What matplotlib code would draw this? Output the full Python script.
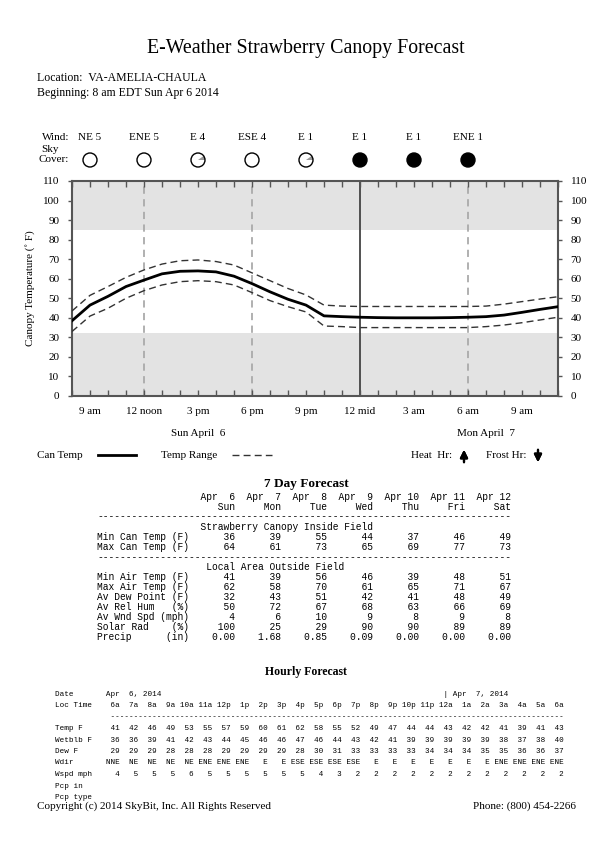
import matplotlib
matplotlib.use('Agg')
import matplotlib.pyplot as plt
from matplotlib import transforms
from matplotlib.lines import Line2D
from matplotlib.patches import Circle, Wedge

# ---- data ----
hours = list(range(8, 36))  # 8 am Sun .. 11 am Mon, hours from Sun midnight
can_temp = [38.5, 46.5, 51, 56, 59.3, 62.5, 63.8, 64, 63.5, 61.3, 57.5, 53.3, 49.5, 46.5,
            41, 40.6, 40.3, 40.1, 40, 40, 40, 40.1, 40.3, 40.6, 41.4, 42.8, 44.3, 45.7]
temp_hi = [43.5, 51.5, 56, 60.7, 64.5, 67.5, 69.2, 69.6, 68.8, 67, 63, 59, 55, 51.7,
           46.5, 46, 45.8, 45.8, 45.8, 45.8, 45.8, 45.8, 45.8, 46, 47, 48.3, 49.6, 50.8]
temp_lo = [33, 40.9, 44.9, 50, 53.9, 56.8, 58.5, 59, 58.5, 56.8, 52.9, 48.8, 45.7, 43,
           35.8, 35.5, 35, 35, 35, 35, 35, 35, 35, 35.5, 36.3, 37.5, 38.9, 40.3]

tick_hours = [9, 12, 15, 18, 21, 24, 27, 30, 33]
tick_labels = ['9 am', '12 noon', '3 pm', '6 pm', '9 pm', '12 mid', '3 am', '6 am', '9 am']
wind = ['NE 5', 'ENE 5', 'E 4', 'ESE 4', 'E 1', 'E 1', 'E 1', 'ENE 1']
sky_cover = [0, 0, 0.1, 0, 0.1, 1, 1, 1]

# 7 day table
dates = ['Apr  6', 'Apr  7', 'Apr  8', 'Apr  9', 'Apr 10', 'Apr 11', 'Apr 12']
days = ['Sun', 'Mon', 'Tue', 'Wed', 'Thu', 'Fri', 'Sat']
min_can = [36, 39, 55, 44, 37, 46, 49]
max_can = [64, 61, 73, 65, 69, 77, 73]
min_air = [41, 39, 56, 46, 39, 48, 51]
max_air = [62, 58, 70, 61, 65, 71, 67]
dew_pt = [32, 43, 51, 42, 41, 48, 49]
rel_hum = [50, 72, 67, 68, 63, 66, 69]
wnd_spd = [4, 6, 10, 9, 8, 9, 8]
solar = [100, 25, 29, 90, 90, 89, 89]
precip = [0.00, 1.68, 0.85, 0.09, 0.00, 0.00, 0.00]

# hourly table
hr_labels = ['6a', '7a', '8a', '9a', '10a', '11a', '12p', '1p', '2p', '3p', '4p', '5p', '6p',
             '7p', '8p', '9p', '10p', '11p', '12a', '1a', '2a', '3a', '4a', '5a', '6a']
hr_temp = [41, 42, 46, 49, 53, 55, 57, 59, 60, 61, 62, 58, 55,
           52, 49, 47, 44, 44, 43, 42, 42, 41, 39, 41, 43]
hr_wetblb = [36, 36, 39, 41, 42, 43, 44, 45, 46, 46, 47, 46, 44,
             43, 42, 41, 39, 39, 39, 39, 39, 38, 37, 38, 40]
hr_dew = [29, 29, 29, 28, 28, 28, 29, 29, 29, 29, 28, 30, 31,
          33, 33, 33, 33, 34, 34, 34, 35, 35, 36, 36, 37]
hr_wdir = ['NNE', 'NE', 'NE', 'NE', 'NE', 'ENE', 'ENE', 'ENE', 'E', 'E', 'ESE', 'ESE', 'ESE',
           'ESE', 'E', 'E', 'E', 'E', 'E', 'E', 'E', 'ENE', 'ENE', 'ENE', 'ENE']
hr_wspd = [4, 5, 5, 5, 6, 5, 5, 5, 5, 5, 5, 4, 3,
           2, 2, 2, 2, 2, 2, 2, 2, 2, 2, 2, 2]

W, H = 612, 864
SERIF = ['Liberation Serif', 'DejaVu Serif']
MONO = ['Liberation Mono', 'DejaVu Sans Mono']
plt.rcParams['font.family'] = SERIF


def fy(y):
    return 1 - y / H


def fx(x):
    return x / W


fig = plt.figure(figsize=(W / 100, H / 100), dpi=100)
fig.patch.set_facecolor('white')

# header
fig.text(0.5, fy(48), 'E-Weather Strawberry Canopy Forecast', ha='center', va='center', fontsize=14.3)
fig.text(fx(37), fy(78), 'Location:  VA-AMELIA-CHAULA', ha='left', va='center', fontsize=8.5)
fig.text(fx(37), fy(93), 'Beginning: 8 am EDT Sun Apr 6 2014', ha='left', va='center', fontsize=8.5)

# main chart
ax = fig.add_axes([fx(72), fy(396), fx(486), 215 / H])
ax.axhspan(85, 110, color='#e3e3e3', lw=0, zorder=0)
ax.axhspan(0, 32, color='#e3e3e3', lw=0, zorder=0)
for h in [12, 18, 30]:
    ax.axvline(h, color='#aaaaaa', lw=1.3, ls=(0, (4, 3)), zorder=1)
ax.axvline(24, color='#444444', lw=1.3, zorder=1)
ax.plot(hours, temp_hi, color='#333333', lw=1.0, ls=(0, (5, 3)), zorder=3)
ax.plot(hours, temp_lo, color='#333333', lw=1.0, ls=(0, (5, 3)), zorder=3)
ax.plot(hours, can_temp, color='black', lw=2.0, zorder=4)
ax.set_xlim(8, 35)
ax.set_ylim(0, 110)
ax.set_yticks(range(0, 111, 10))
ax.set_xticks(tick_hours)
ax.set_xticklabels(tick_labels)
ax.set_xticks(hours, minor=True)
ax.tick_params(axis='x', which='both', direction='in', top=True, bottom=True, length=4,
               width=1, color='#555555', labelsize=8, pad=8)
ax.tick_params(axis='y', direction='out', left=True, right=True, labelleft=True, labelright=True,
               length=3, width=1, color='#555555', labelsize=8, pad=6)
for s in ax.spines.values():
    s.set_color('#555555')
    s.set_linewidth(1.5)
ax.set_ylabel('Canopy Temperature (\u02da F)', fontsize=8, labelpad=6)

xfig = transforms.blended_transform_factory(ax.transData, fig.transFigure)
ax.text(15, fy(433), 'Sun April  6', transform=xfig, ha='center', va='center', fontsize=8)
ax.text(31, fy(433), 'Mon April  7', transform=xfig, ha='center', va='center', fontsize=8)

# wind and sky cover
fig.text(fx(69), fy(137), 'Wind:', ha='right', va='center', fontsize=8)
fig.text(fx(50), fy(150), 'Sky', ha='center', va='center', fontsize=8)
fig.text(fx(69), fy(160), 'Cover:', ha='right', va='center', fontsize=8)
for h, w in zip(tick_hours, wind):
    ax.text(h, fy(137), w, transform=xfig, ha='center', va='center', fontsize=8)

sky = fig.add_axes([fx(72), fy(178), fx(486), 36 / H])
sky.set_xlim(8, 35)
sky.set_ylim(-1, 1)
sky.axis('off')
r = 7 / 18
for h, c in zip(tick_hours, sky_cover):
    if c >= 1:
        sky.add_patch(Circle((h, 0), r, facecolor='black', edgecolor='black', lw=1))
    else:
        if c > 0:
            sky.add_patch(Wedge((h, 0), r, 0, 360 * c, facecolor='#999999', lw=0))
        sky.add_patch(Circle((h, 0), r, facecolor='none', edgecolor='black', lw=1))

# legend row
fig.text(fx(37), fy(455), 'Can Temp', ha='left', va='center', fontsize=8)
fig.add_artist(Line2D([fx(98), fx(136)], [fy(455), fy(455)], color='black', lw=2))
fig.text(fx(161), fy(455), 'Temp Range', ha='left', va='center', fontsize=8)
fig.add_artist(Line2D([fx(232), fx(272)], [fy(455), fy(455)], color='#333333', lw=1,
                      ls=(0, (5, 3))))
fig.text(fx(411), fy(455), 'Heat  Hr:', ha='left', va='center', fontsize=8)
fig.text(fx(486), fy(455), 'Frost Hr:', ha='left', va='center', fontsize=8)
fig.add_artist(plt.annotate('', xy=(fx(464), fy(447)), xytext=(fx(464), fy(465)),
                            xycoords='figure fraction',
                            arrowprops=dict(arrowstyle='-|>', color='black', lw=1.6,
                                            mutation_scale=11)))
fig.add_artist(plt.annotate('', xy=(fx(538), fy(465)), xytext=(fx(538), fy(447)),
                            xycoords='figure fraction',
                            arrowprops=dict(arrowstyle='-|>', color='black', lw=1.6,
                                            mutation_scale=11)))

# 7 day forecast
fig.text(0.5, fy(484.5), '7 Day Forecast', ha='center', va='center', fontsize=9.5, fontweight='bold')


def row(label, vals, fmt='{}'):
    return label.ljust(16) + ''.join(fmt.format(v).rjust(8) for v in vals)


lines = [
    row('', dates),
    row('', days),
    '-' * 72,
    ' ' * 18 + 'Strawberry Canopy Inside Field',
    row('Min Can Temp (F)', min_can),
    row('Max Can Temp (F)', max_can),
    '-' * 72,
    ' ' * 19 + 'Local Area Outside Field',
    row('Min Air Temp (F)', min_air),
    row('Max Air Temp (F)', max_air),
    row('Av Dew Point (F)', dew_pt),
    row('Av Rel Hum   (%)', rel_hum),
    row('Av Wnd Spd (mph)', wnd_spd),
    row('Solar Rad    (%)', solar),
    row('Precip      (in)', precip, '{:.2f}'),
]
for i, ln in enumerate(lines):
    fig.text(fx(97), fy(496.5 + i * 10.05), ln, ha='left', va='center', fontsize=6.95, family=MONO)

# hourly forecast
fig.text(0.5, fy(672), 'Hourly Forecast', ha='center', va='center', fontsize=8.5, fontweight='bold')


def hrow(label, vals):
    return label.ljust(10) + ''.join(str(v).rjust(4) for v in vals)


date_line = 'Date'.ljust(11) + 'Apr  6, 2014'
date_line = date_line.ljust(84) + '| Apr  7, 2014'
hlines = [
    date_line,
    hrow('Loc Time', hr_labels),
    ' ' * 12 + '-' * 98,
    hrow('Temp F', hr_temp),
    hrow('Wetblb F', hr_wetblb),
    hrow('Dew F', hr_dew),
    hrow('Wdir', hr_wdir),
    hrow('Wspd mph', hr_wspd),
    'Pcp in',
    'Pcp type',
]
for i, ln in enumerate(hlines):
    fig.text(fx(55), fy(694 + i * 11.5), ln, ha='left', va='center', fontsize=5.5, family=MONO)

# footer
fig.text(fx(37), fy(806), 'Copyright (c) 2014 SkyBit, Inc. All Rights Reserved', ha='left',
         va='center', fontsize=8)
fig.text(fx(576), fy(806), 'Phone: (800) 454-2266', ha='right', va='center', fontsize=8)

fig.savefig('out.png', dpi=100)
